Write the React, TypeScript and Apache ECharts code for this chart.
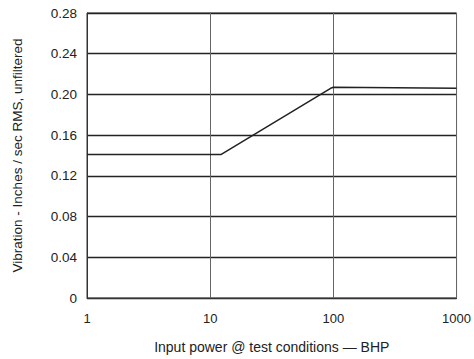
import React, { useEffect, useRef } from "react";
import * as echarts from "echarts";

const xTicks = [1, 10, 100, 1000];
const yTicks = [0, 0.04, 0.08, 0.12, 0.16, 0.2, 0.24, 0.28];
const powerBHP = [1, 12.3, 95, 100, 1000];
const vibration = [0.141, 0.141, 0.206, 0.207, 0.206];

const xName = "Input power @ test conditions \u2014 BHP";
const yName = "Vibration - Inches / sec RMS, unfiltered";

export default function App() {
  const ref = useRef<HTMLDivElement>(null);
  useEffect(() => {
    if (!ref.current) return;
    const chart = echarts.init(ref.current, undefined, { renderer: "svg" });
    const font = "'Liberation Sans', Arial, Helvetica, sans-serif";
    chart.setOption({
      animation: false,
      backgroundColor: "#ffffff",
      grid: {
        left: 87,
        right: 16,
        top: 13,
        bottom: 56,
        show: true,
        borderColor: "#333",
        borderWidth: 1,
      },
      xAxis: {
        type: "log",
        logBase: 10,
        min: xTicks[0],
        max: xTicks[xTicks.length - 1],
        name: xName,
        nameLocation: "middle",
        nameGap: 42,
        nameTextStyle: { fontFamily: font, fontSize: 14, color: "#222" },
        axisLine: { show: true, lineStyle: { color: "#333", width: 1 } },
        axisTick: { show: false },
        axisLabel: {
          fontFamily: font,
          fontSize: 13,
          color: "#222",
          margin: 14,
          formatter: (v: number) => String(Math.round(v)),
        },
        splitLine: { show: true, lineStyle: { color: "#666", width: 1 } },
      },
      yAxis: {
        type: "value",
        min: yTicks[0],
        max: yTicks[yTicks.length - 1],
        interval: 0.04,
        name: yName,
        nameLocation: "middle",
        nameGap: 63,
        nameRotate: 90,
        nameTextStyle: { fontFamily: font, fontSize: 13.5, color: "#222" },
        axisLine: { show: true, lineStyle: { color: "#333", width: 1 } },
        axisTick: { show: false },
        axisLabel: {
          fontFamily: font,
          fontSize: 13.5,
          color: "#222",
          margin: 10,
          formatter: (v: number) => (v === 0 ? "0" : v.toFixed(2)),
        },
        splitLine: { show: true, lineStyle: { color: "#222", width: 1.3 } },
      },
      series: [
        {
          type: "line",
          data: powerBHP.map((x, i) => [x, vibration[i]]),
          showSymbol: false,
          lineStyle: { color: "#222", width: 1.5 },
        },
      ],
    });
    return () => chart.dispose();
  }, []);
  return <div ref={ref} style={{ width: 474, height: 359, position: "absolute", left: 0, top: 0 }} />;
}
